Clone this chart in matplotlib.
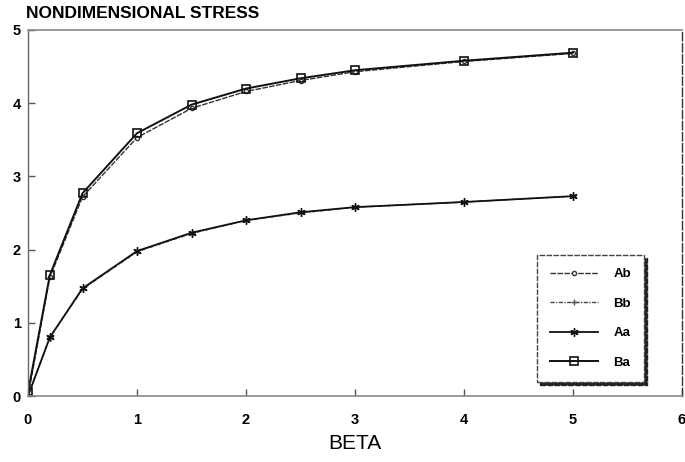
import matplotlib
matplotlib.use("Agg")
import matplotlib.pyplot as plt

plt.rcParams['font.family'] = ['Liberation Sans', 'DejaVu Sans']

beta = [0, 0.2, 0.5, 1.0, 1.5, 2.0, 2.5, 3.0, 4.0, 5.0]
Ab = [0.0, 1.62, 2.72, 3.53, 3.93, 4.16, 4.31, 4.43, 4.57, 4.68]
Bb = [0.0, 0.80, 1.46, 1.97, 2.22, 2.40, 2.50, 2.58, 2.65, 2.73]
Aa = [0.0, 0.80, 1.47, 1.98, 2.23, 2.40, 2.51, 2.58, 2.65, 2.73]
Ba = [0.05, 1.65, 2.77, 3.59, 3.98, 4.20, 4.34, 4.45, 4.58, 4.69]

xticks = [0, 1, 2, 3, 4, 5, 6]
yticks = [0, 1, 2, 3, 4, 5]

fig = plt.figure(figsize=(6.85, 4.62), dpi=100)
ax = fig.add_axes([28/685, 66/462, 654/685, 366/462])

ax.plot(beta, Ab, color='#333333', lw=1.0, ls=(0, (4, 1)), marker='o', ms=3,
        mfc='white', mec='#333333', label='Ab')
ax.plot(beta, Bb, color='#444444', lw=1.0, ls=(0, (3, 1, 1, 1)), marker='+', ms=5,
        mec='#555555', label='Bb')
ax.plot(beta, Aa, color='#111111', lw=1.3, marker=(6, 2, 0), ms=6,
        mec='#111111', label='Aa')
ax.plot(beta, Ba, color='#111111', lw=1.4, marker='s', ms=5.5,
        mfc='none', mec='#111111', mew=1.2, label='Ba')

ax.set_xlim(0, 6)
ax.set_ylim(0, 5)
ax.set_xticks(xticks)
ax.set_yticks(yticks)
ax.set_xticklabels([str(t) for t in xticks], fontweight='bold', fontsize=10.5)
ax.set_yticklabels([str(t) for t in yticks], fontweight='bold', fontsize=10.5)
ax.tick_params(axis='both', direction='in', length=5, width=1, color='#555555')
ax.tick_params(axis='x', pad=12)
ax.tick_params(axis='y', pad=5)
ax.tick_params(top=False, right=False)

for side in ['top', 'bottom']:
    ax.spines[side].set_color('#8a8a8a')
    ax.spines[side].set_linewidth(1.2)
ax.spines['left'].set_color('#666666')
ax.spines['left'].set_linestyle((0, (4, 1, 1, 1)))
ax.spines['left'].set_linewidth(1.0)
ax.spines['right'].set_color('#333333')
ax.spines['right'].set_linestyle((0, (6, 2)))
ax.spines['right'].set_linewidth(1.0)

ax.set_xlabel('BETA', fontsize=15, labelpad=5)
fig.text(26/685, 1 - 14/462, 'NONDIMENSIONAL STRESS', fontsize=12.5,
         fontweight='bold', ha='left', va='center')

leg = ax.legend(loc='upper left',
                bbox_to_anchor=((537 - 28) / 654, (396 - 255) / 366),
                frameon=True, fancybox=False,
                shadow={'color': '#222222', 'alpha': 1.0},
                prop={'weight': 'bold', 'size': 9.5},
                handlelength=3.6, labelspacing=1.3, borderpad=1.0,
                handletextpad=1.2, borderaxespad=0)
leg.get_frame().set_edgecolor('#444444')
leg.get_frame().set_linestyle((0, (4, 1)))
leg.get_frame().set_linewidth(1.0)

fig.savefig('out.png', dpi=100)
